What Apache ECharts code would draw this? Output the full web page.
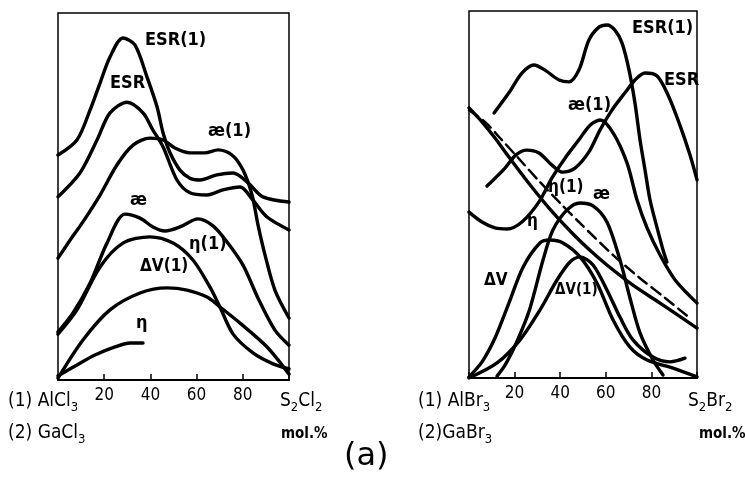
<!DOCTYPE html>
<html><head><meta charset="utf-8">
<script src="https://cdn.jsdelivr.net/npm/echarts@6/dist/echarts.min.js"></script>
<style>html,body{margin:0;padding:0;background:#fff}#c{width:745px;height:486px}</style>
</head><body><div id="c"></div>
<script>
// x: mol.% S2X2 ; y: relative property value (arbitrary units, 0-100)
const xTicks = [20, 40, 60, 80];

// Left panel: AlCl3 / GaCl3 – S2Cl2
const L_ESR1 = [[0,61.3],[8.2,65.4],[13.9,73.6],[18.2,80.9],[22.5,88.0],[28.1,93.2],[33.3,91.3],[38.5,82.6],[42.9,74.4],[45.5,67.3],[48.5,61.9],[52.8,57.2],[57.1,55.0],[61.5,54.5],[68.8,55.9],[75.8,56.4],[81.8,54.0],[88.7,49.9],[100,48.5]];
const L_ESR = [[0,49.9],[9.5,56.4],[16.9,65.4],[22.5,72.8],[29.9,75.7],[36.8,72.8],[41.1,68.1],[45.5,63.5],[51.5,54.5],[57.1,51.0],[64.5,50.4],[71.4,51.8],[78.8,52.6],[84.4,49.0],[90.5,44.4],[100,40.9]];
const L_KAPPA1 = [[0,33.2],[5.2,38.1],[10.8,43.1],[18.2,50.4],[25.5,58.6],[32.5,64.0],[39.8,65.9],[45.5,65.4],[50.6,63.2],[57.1,61.9],[63.6,61.9],[69.3,62.7],[75.3,61.3],[80.1,57.2],[84.0,50.4],[86.6,42.2],[89.6,34.1],[93.9,24.5],[100,16.9]];
const L_KAPPA = [[0,13.1],[6.5,18.3],[13.9,26.4],[21.2,37.3],[29.0,45.2],[35.5,44.1],[41.1,41.7],[46.3,40.6],[52.8,41.7],[60.6,43.9],[67.1,42.0],[73.2,37.6],[80.1,31.3],[86.6,22.3],[93.9,13.6],[100,9.5]];
const L_ETA1 = [[0,12.5],[8.2,19.1],[18.2,30.8],[28.1,37.3],[39.8,39.0],[49.8,37.3],[58.4,32.7],[65.8,25.3],[70.1,19.9],[75.8,12.5],[84.4,7.4],[93.1,4.4],[100,3.0]];
const L_DV1 = [[0,0.5],[10.8,10.9],[22.5,19.1],[35.5,23.7],[47.2,25.1],[55.8,24.5],[64.5,22.6],[70.1,19.9],[78.8,15.5],[90.5,9.0],[100,1.6]];
const L_ETA = [[0,1.1],[7.4,3.8],[16.0,6.8],[24.7,9.0],[31.2,10.1],[36.8,10.1]];

// Right panel: AlBr3 / GaBr3 – S2Br2
const R_ESR1 = [[11.0,72.2],[17.5,77.7],[23.2,83.1],[28.5,85.3],[33.3,83.9],[39.5,81.2],[43.9,80.7],[48.2,83.9],[52.6,92.1],[57.0,95.6],[60.5,96.2],[64.0,94.8],[67.1,91.3],[70.2,83.9],[72.8,74.9],[75.0,64.9],[77.2,56.7],[79.4,48.5],[82.5,40.9],[85.1,34.9],[86.8,31.6]];
const R_ESR = [[7.9,52.3],[15.8,57.2],[20.6,60.8],[25.4,62.1],[30.7,61.3],[36.4,58.0],[40.8,56.1],[46.5,57.2],[52.6,61.6],[57.5,67.6],[62.7,73.0],[68.4,77.7],[72.8,81.2],[77.2,83.1],[82.5,82.3],[87.3,77.1],[92.5,68.9],[96.9,60.8],[100,54.0]];
const R_KAPPA1 = [[0,45.2],[5.7,42.5],[11.4,40.9],[16.7,40.6],[23.2,42.5],[30.7,48.0],[36.4,54.5],[42.1,59.9],[48.2,64.9],[53.1,68.9],[57.5,70.3],[63.2,66.8],[69.3,58.6],[73.7,48.5],[78.1,40.9],[83.8,33.5],[90.4,26.7],[100,20.4]];
const R_ETA1 = [[0,73.6],[5.7,69.8],[11.4,65.4],[17.5,60.2],[25.8,53.4],[35.1,46.3],[45.2,39.5],[53.9,34.3],[60.5,30.8],[71.9,25.3],[83.8,20.4],[100,13.6]];
const R_ETA = [[0,73.0],[7.0,69.8],[13.6,65.4],[22.4,59.4],[31.1,53.4],[39.9,47.7],[48.7,42.2],[63.2,33.5],[75.0,27.2],[86.0,21.8],[96.9,16.3]];
const R_KAPPA = [[12.3,0.5],[15.8,3.5],[19.3,7.6],[23.2,13.1],[26.8,19.1],[32.5,32.2],[36.8,40.3],[43.0,45.8],[48.7,47.7],[54.4,46.9],[60.5,42.5],[66.2,32.2],[70.6,21.8],[75.0,12.3],[80.7,4.9],[85.1,0.8]];
const R_DV = [[0,0.3],[5.7,4.4],[11.4,10.9],[17.5,20.4],[23.7,30.2],[31.1,36.8],[35.5,37.6],[41.2,36.8],[48.7,33.0],[56.1,25.9],[63.2,15.8],[70.6,8.4],[78.1,4.9],[89.5,2.7],[100,0.3]];
const R_DV1 = [[0,0],[12.3,4.1],[22.4,10.4],[31.1,18.5],[38.6,26.7],[44.3,31.6],[48.7,33.0],[54.4,30.8],[60.5,24.0],[66.2,16.6],[71.9,10.4],[80.7,5.7],[88.2,4.4],[94.7,5.4]];

const FONT = "'DejaVu Sans Condensed','Liberation Sans Narrow','Liberation Sans',sans-serif";
const chart = echarts.init(document.getElementById('c'), null, {renderer:'canvas'});

function xAx(gi){
  return {gridIndex:gi,type:'value',min:0,max:100,interval:20,
    axisLine:{show:true,lineStyle:{color:'#000',width:2}},
    axisTick:{show:true,inside:true,length:6,lineStyle:{color:'#000',width:1.5}},
    axisLabel:{color:'#000',fontSize:17,fontFamily:FONT,margin:7,
      formatter:v=>xTicks.includes(v)?String(v):''},
    splitLine:{show:false}};
}
function yAx(gi){
  return {gridIndex:gi,type:'value',min:0,max:100,show:false};
}
function ln(data,gi,dashed){
  return {type:'line',xAxisIndex:gi,yAxisIndex:gi,data:data,showSymbol:false,symbol:'none',
    smooth:0.3,animation:false,silent:true,
    lineStyle:{color:'#000',width:dashed?2.5:3.4,type:dashed?[11,6]:'solid',cap:'round',join:'round'}};
}
function txt(x,y,t,size){
  return {type:'text',left:x,top:y,silent:true,
    style:{text:t,fill:'#000',font:'bold '+(size||18)+'px '+FONT}};
}
const RICH = {n:{fontSize:19,fontFamily:FONT,fill:'#000'},s:{fontSize:13,fontFamily:FONT,fill:'#000',padding:[12,0,0,0]}};
function cap(x,y,t){
  return {type:'text',left:x,top:y,silent:true,style:{text:t,rich:RICH}};
}

chart.setOption({
  backgroundColor:'#fff',
  animation:false,
  grid:[
    {left:58,top:13,width:231,height:367,show:true,borderColor:'#000',borderWidth:1.5,backgroundColor:'transparent'},
    {left:469,top:11,width:228,height:367,show:true,borderColor:'#000',borderWidth:1.5,backgroundColor:'transparent'}
  ],
  xAxis:[xAx(0),xAx(1)],
  yAxis:[yAx(0),yAx(1)],
  series:[
    ln(L_ESR1,0),ln(L_ESR,0),ln(L_KAPPA1,0),ln(L_KAPPA,0),ln(L_ETA1,0),ln(L_DV1,0),ln(L_ETA,0),
    ln(R_ESR1,1),ln(R_ESR,1),ln(R_KAPPA1,1),ln(R_ETA1,1),ln(R_ETA,1,true),ln(R_KAPPA,1),ln(R_DV,1),ln(R_DV1,1)
  ],
  graphic:[
    // left panel curve labels
    txt(145,31,'ESR(1)'), txt(110,74,'ESR'), txt(208,122,'æ(1)'), txt(130,191,'æ'),
    txt(189,235,'η(1)'), txt(140,258,'ΔV(1)',17), txt(136,314,'η'),
    // right panel curve labels
    txt(632,19,'ESR(1)'), txt(664,71,'ESR'), txt(568,96,'æ(1)'), txt(593,185,'æ'),
    txt(548,179,'η(1)',17), txt(527,213,'η',17), txt(484,272,'ΔV',17), txt(555,283,'ΔV(1)',15),
    // bottom captions
    cap(8,392,'{n|(1) AlCl}{s|3}'),
    cap(8,424,'{n|(2) GaCl}{s|3}'),
    cap(280,392,'{n|S}{s|2}{n|Cl}{s|2}'),
    {type:'text',left:281,top:427,silent:true,style:{text:'mol.%',fill:'#000',font:'bold 15px '+FONT}},
    cap(418,392,'{n|(1) AlBr}{s|3}'),
    cap(418,424,'{n|(2)GaBr}{s|3}'),
    cap(688,392,'{n|S}{s|2}{n|Br}{s|2}'),
    {type:'text',left:699,top:427,silent:true,style:{text:'mol.%',fill:'#000',font:'bold 15px '+FONT}},
    {type:'text',left:344,top:441,silent:true,style:{text:'(a)',fill:'#000',font:'32px "DejaVu Sans", sans-serif'}}
  ]
});
</script></body></html>
